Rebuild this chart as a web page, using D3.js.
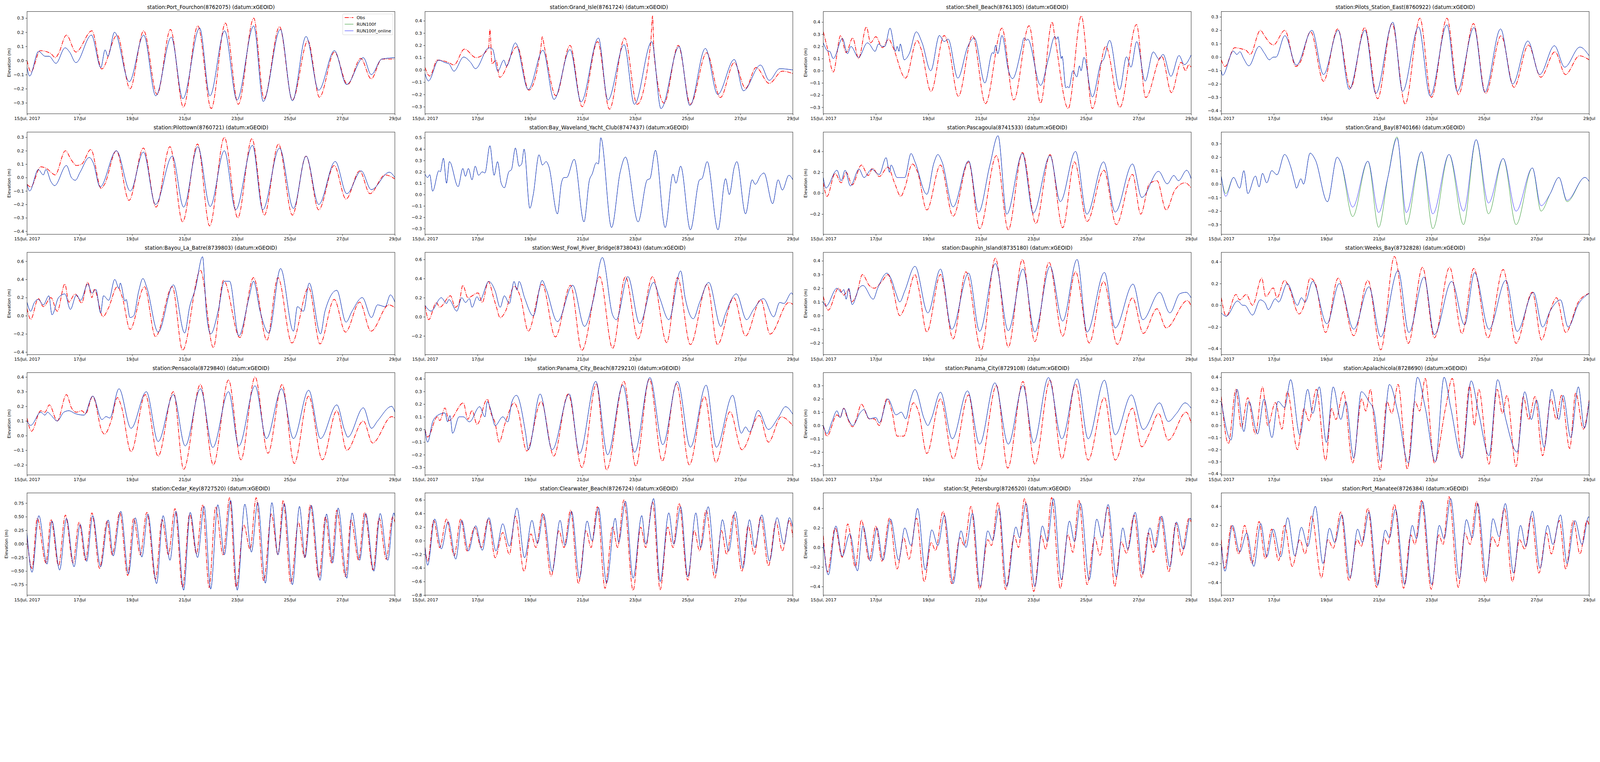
<!DOCTYPE html>
<html>
<head>
<meta charset="utf-8">
<script src="https://cdn.jsdelivr.net/npm/d3@7"></script>
<style>
  html, body { margin: 0; padding: 0; background: #fff; overflow: hidden; }
  svg { display: block; width: 100vw; height: auto; font-family: "DejaVu Sans", sans-serif; }
</style>
</head>
<body>
<div id="chart"></div>
<script>
const width = 5150, height = 1950;
const startDay = Date.UTC(2017, 6, 15);
const endDay = Date.UTC(2017, 6, 29);

// x ticks: day offsets from 15 Jul 2017 and their labels
const xTickDays = [0, 2, 4, 6, 8, 10, 12, 14];
const xTickLabels = ["15/Jul, 2017", "17/Jul", "19/Jul", "21/Jul", "23/Jul", "25/Jul", "27/Jul", "29/Jul"];

const seriesNames = ["Obs", "RUN100f", "RUN100f_online"];

const stationNames = [
  "station:Port_Fourchon(8762075) (datum:xGEOID)",
  "station:Grand_Isle(8761724) (datum:xGEOID)",
  "station:Shell_Beach(8761305) (datum:xGEOID)",
  "station:Pilots_Station_East(8760922) (datum:xGEOID)",
  "station:Pilottown(8760721) (datum:xGEOID)",
  "station:Bay_Waveland_Yacht_Club(8747437) (datum:xGEOID)",
  "station:Pascagoula(8741533) (datum:xGEOID)",
  "station:Grand_Bay(8740166) (datum:xGEOID)",
  "station:Bayou_La_Batre(8739803) (datum:xGEOID)",
  "station:West_Fowl_River_Bridge(8738043) (datum:xGEOID)",
  "station:Dauphin_Island(8735180) (datum:xGEOID)",
  "station:Weeks_Bay(8732828) (datum:xGEOID)",
  "station:Pensacola(8729840) (datum:xGEOID)",
  "station:Panama_City_Beach(8729210) (datum:xGEOID)",
  "station:Panama_City(8729108) (datum:xGEOID)",
  "station:Apalachicola(8728690) (datum:xGEOID)",
  "station:Cedar_Key(8727520) (datum:xGEOID)",
  "station:Clearwater_Beach(8726724) (datum:xGEOID)",
  "station:St_Petersburg(8726520) (datum:xGEOID)",
  "station:Port_Manatee(8726384) (datum:xGEOID)"
];

// y axis limits and tick values per station
const yLimits = [
  [-0.377, 0.347], [-0.357, 0.476], [-0.353, 0.487], [-0.422, 0.34],
  [-0.423, 0.339], [-0.35, 0.55], [-0.393, 0.585], [-0.372, 0.386],
  [-0.428, 0.698], [-0.395, 0.674], [-0.285, 0.462], [-0.454, 0.4875],
  [-0.268, 0.43], [-0.359, 0.449], [-0.371, 0.397], [-0.409, 0.438],
  [-0.942, 0.938], [-0.80, 0.703], [-0.488, 0.558], [-0.532, 0.54]
];
const yTicks = [
  [-0.3, -0.2, -0.1, 0, 0.1, 0.2, 0.3],
  [-0.3, -0.2, -0.1, 0, 0.1, 0.2, 0.3, 0.4],
  [-0.3, -0.2, -0.1, 0, 0.1, 0.2, 0.3, 0.4],
  [-0.4, -0.3, -0.2, -0.1, 0, 0.1, 0.2, 0.3],
  [-0.4, -0.3, -0.2, -0.1, 0, 0.1, 0.2, 0.3],
  [-0.3, -0.2, -0.1, 0, 0.1, 0.2, 0.3, 0.4, 0.5],
  [-0.2, 0, 0.2, 0.4],
  [-0.3, -0.2, -0.1, 0, 0.1, 0.2, 0.3],
  [-0.4, -0.2, 0, 0.2, 0.4, 0.6],
  [-0.2, 0, 0.2, 0.4, 0.6],
  [-0.2, -0.1, 0, 0.1, 0.2, 0.3, 0.4],
  [-0.4, -0.2, 0, 0.2, 0.4],
  [-0.2, -0.1, 0, 0.1, 0.2, 0.3, 0.4],
  [-0.3, -0.2, -0.1, 0, 0.1, 0.2, 0.3, 0.4],
  [-0.3, -0.2, -0.1, 0, 0.1, 0.2, 0.3],
  [-0.4, -0.3, -0.2, -0.1, 0, 0.1, 0.2, 0.3, 0.4],
  [-0.75, -0.5, -0.25, 0, 0.25, 0.5, 0.75],
  [-0.8, -0.6, -0.4, -0.2, 0, 0.2, 0.4, 0.6],
  [-0.4, -0.2, 0, 0.2, 0.4],
  [-0.4, -0.2, 0, 0.2, 0.4]
];
const yTickDecimals = [1,1,1,1, 1,1,1,1, 1,1,1,1, 1,1,1,1, 2,1,1,1];

// series: [day offset, elevation m], read at highs/lows
const portFourchonObs = [[0,0.0],[0.15,-0.08],[0.5,0.07],[0.9,0.05],[1.08,0.02],[1.2,0.05],[1.5,0.18],[1.86,0.06],[2.47,0.21],[2.84,-0.06],[3.43,0.18],[3.92,-0.2],[4.44,0.21],[4.95,-0.24],[5.46,0.22],[5.95,-0.33],[6.5,0.245],[7.01,-0.34],[7.55,0.265],[8.04,-0.31],[8.63,0.30],[9.02,-0.27],[9.61,0.24],[10.1,-0.28],[10.69,0.14],[11.13,-0.26],[11.7,0.06],[12.2,-0.17],[12.7,0.015],[13.1,-0.13],[13.5,0.01],[14,0.01]];
const portFourchonModel = [[0,-0.05],[0.1,-0.11],[0.44,0.065],[0.69,0.03],[0.84,0.03],[1.1,-0.02],[1.45,0.09],[1.62,0.06],[1.86,-0.015],[2.45,0.18],[2.81,-0.05],[2.97,0.075],[3.08,0.03],[3.33,0.2],[3.89,-0.15],[4.44,0.18],[4.9,-0.25],[5.49,0.165],[5.93,-0.27],[6.57,0.23],[6.96,-0.25],[7.52,0.21],[7.99,-0.28],[8.63,0.245],[8.99,-0.29],[9.64,0.22],[10.1,-0.285],[10.62,0.17],[11.1,-0.21],[11.7,0.07],[12.16,-0.17],[12.8,0.02],[13.1,-0.1],[13.5,0.01],[14,0.02]];

const grandIsleObs = [[0,0.02],[0.18,-0.05],[0.47,0.08],[0.9,0.06],[1.1,0.04],[1.5,0.17],[1.94,0.1],[2.42,0.18],[2.47,0.33],[2.55,0.05],[2.7,0.08],[2.84,-0.06],[3.51,0.19],[3.95,-0.165],[4.42,0.2],[4.46,0.27],[4.55,0.18],[4.98,-0.21],[5.52,0.2],[5.98,-0.3],[6.57,0.23],[7.02,-0.32],[7.6,0.26],[8.07,-0.28],[8.59,0.22],[8.66,0.44],[8.72,0.12],[9.1,-0.27],[9.64,0.2],[10.1,-0.28],[10.72,0.14],[11.24,-0.225],[11.77,0.06],[12.2,-0.15],[12.6,0.02],[13.1,-0.11],[13.6,-0.01],[14,-0.03]];
const grandIsleModel = [[0,-0.03],[0.13,-0.09],[0.52,0.08],[0.76,0.06],[0.91,0.05],[1.1,-0.01],[1.47,0.105],[1.74,0.06],[1.92,0.01],[2.43,0.18],[2.57,0.17],[2.77,-0.01],[3.0,0.08],[3.1,0.03],[3.44,0.22],[3.93,-0.16],[4.49,0.16],[4.91,-0.24],[5.52,0.165],[5.94,-0.26],[6.6,0.26],[6.96,-0.245],[7.58,0.205],[7.97,-0.28],[8.63,0.23],[8.98,-0.315],[9.67,0.19],[10.08,-0.29],[10.67,0.175],[11.14,-0.2],[11.77,0.085],[12.12,-0.17],[12.77,0.04],[13.1,-0.085],[13.5,0.01],[14,0.0]];

const shellBeachObs = [[0,0.32],[0.14,0.2],[0.38,-0.01],[0.66,0.29],[0.87,0.15],[1.12,0.27],[1.34,0.1],[1.64,0.36],[1.8,0.23],[2.0,0.28],[2.25,0.19],[2.49,0.26],[2.64,0.2],[3.13,-0.06],[3.57,0.25],[3.72,0.18],[4.1,-0.17],[4.6,0.29],[4.75,0.22],[5.14,-0.21],[5.68,0.29],[6.17,-0.27],[6.8,0.35],[7.25,-0.24],[7.83,0.37],[8.27,-0.265],[8.71,0.4],[8.81,0.28],[9.32,-0.31],[9.82,0.45],[10.24,-0.31],[10.75,0.2],[11.29,-0.3],[11.92,0.38],[12.27,-0.22],[12.88,0.12],[13.25,-0.18],[13.62,0.07],[13.79,0.0],[13.91,0.05],[14,0.03]];
const shellBeachModel = [[0,0.23],[0.19,0.16],[0.24,0.16],[0.38,0.1],[0.73,0.265],[0.92,0.14],[1.05,0.2],[1.34,0.11],[1.68,0.23],[1.75,0.22],[1.97,0.16],[2.1,0.22],[2.25,0.2],[2.34,0.2],[2.54,0.35],[2.75,0.16],[2.81,0.2],[2.88,0.16],[2.93,0.22],[3.08,0.09],[3.27,0.14],[3.54,0.32],[3.76,0.23],[4.09,0.0],[4.42,0.29],[4.6,0.24],[4.75,0.26],[5.12,-0.06],[5.5,0.2],[5.75,0.27],[6.15,-0.1],[6.44,0.15],[6.48,0.14],[6.56,0.21],[6.64,0.14],[6.8,0.29],[7.05,0.0],[7.2,-0.065],[7.54,0.18],[7.64,0.27],[7.74,0.25],[7.78,0.26],[8.27,-0.12],[8.57,0.1],[8.81,0.28],[8.89,0.26],[8.93,0.28],[9.06,0.1],[9.09,0.12],[9.23,-0.14],[9.3,-0.13],[9.35,-0.14],[9.5,0.0],[9.65,-0.05],[9.75,0.04],[9.81,0.0],[9.92,0.11],[10.24,-0.215],[10.58,0.07],[10.66,0.09],[10.9,0.25],[11.28,-0.155],[11.54,0.115],[11.71,0.03],[11.93,0.24],[12.25,-0.085],[12.56,0.155],[12.78,0.095],[12.93,0.135],[13.23,-0.045],[13.54,0.125],[13.74,0.05],[14,0.13]];

const pilotsObs = [[0,-0.02],[0.14,-0.07],[0.51,0.07],[0.8,0.06],[0.95,0.05],[1.1,0.02],[1.49,0.2],[1.64,0.16],[1.88,0.1],[1.98,0.09],[2.42,0.2],[2.84,-0.07],[3.0,-0.04],[3.4,0.19],[3.89,-0.18],[4.43,0.21],[4.92,-0.23],[5.46,0.22],[5.95,-0.31],[6.5,0.25],[7.0,-0.35],[7.56,0.29],[8.0,-0.3],[8.59,0.29],[9.03,-0.28],[9.6,0.25],[10.06,-0.27],[10.65,0.16],[11.14,-0.225],[11.69,0.09],[12.16,-0.15],[12.7,0.04],[13.1,-0.13],[13.63,0.01],[14,-0.02]];
const pilotsModel = [[0,-0.1],[0.05,-0.135],[0.46,0.045],[0.59,0.02],[0.71,0.04],[0.85,-0.01],[1.05,-0.065],[1.44,0.08],[1.64,0.03],[1.83,-0.02],[1.98,0.0],[2.08,0.0],[2.42,0.16],[2.86,-0.06],[3.45,0.2],[3.89,-0.13],[4.45,0.2],[4.87,-0.24],[5.47,0.2],[5.88,-0.27],[6.53,0.26],[6.9,-0.255],[7.51,0.225],[7.95,-0.29],[8.59,0.24],[8.98,-0.255],[9.62,0.22],[10.03,-0.26],[10.63,0.21],[11.09,-0.2],[11.67,0.12],[12.12,-0.13],[12.68,0.085],[13.07,-0.075],[13.65,0.075],[14,0.01]];

const pilottownObs = [[0,-0.05],[0.14,-0.07],[0.52,0.08],[0.8,0.06],[0.91,0.04],[1.07,0.02],[1.46,0.2],[1.69,0.13],[1.88,0.09],[2.08,0.1],[2.43,0.21],[2.82,-0.08],[2.95,-0.05],[3.4,0.2],[3.88,-0.17],[4.43,0.22],[4.91,-0.22],[5.44,0.23],[5.92,-0.33],[6.49,0.25],[6.95,-0.36],[7.51,0.3],[8.02,-0.3],[8.56,0.29],[9.03,-0.28],[9.57,0.25],[10.1,-0.28],[10.62,0.16],[11.1,-0.24],[11.69,0.09],[12.14,-0.16],[12.66,0.05],[13.05,-0.12],[13.63,0.02],[14,-0.01]];
const pilottownModel = [[0,-0.05],[0.1,-0.1],[0.43,0.06],[0.62,0.02],[0.72,0.06],[0.91,-0.03],[1.05,-0.06],[1.5,0.09],[1.69,0.0],[1.84,-0.02],[2.02,0.04],[2.37,0.15],[2.52,0.11],[2.78,-0.07],[3.4,0.2],[3.93,-0.1],[4.43,0.19],[4.89,-0.2],[5.53,0.16],[5.96,-0.22],[6.5,0.23],[6.97,-0.215],[7.51,0.2],[7.94,-0.24],[8.58,0.24],[8.97,-0.24],[9.61,0.22],[10.14,-0.23],[10.62,0.16],[11.1,-0.2],[11.73,0.12],[12.17,-0.12],[12.72,0.05],[13.1,-0.09],[13.79,0.04],[14,0.0]];

const bayWavelandModel = [[0,0.18],[0.1,0.15],[0.18,0.175],[0.29,0.03],[0.53,0.21],[0.58,0.2],[0.7,0.32],[0.82,0.1],[0.93,0.29],[1.26,0.07],[1.44,0.23],[1.54,0.16],[1.65,0.23],[1.79,0.13],[1.91,0.25],[2.04,0.17],[2.18,0.2],[2.28,0.19],[2.47,0.43],[2.63,0.17],[2.76,0.29],[2.9,0.1],[3.02,0.06],[3.19,0.2],[3.29,0.22],[3.44,0.41],[3.58,0.25],[3.68,0.27],[3.77,0.4],[3.99,-0.12],[4.12,0.0],[4.34,0.35],[4.47,0.26],[4.61,0.29],[4.71,0.25],[5.04,-0.17],[5.19,0.1],[5.29,0.15],[5.39,0.15],[5.68,0.31],[6.05,-0.24],[6.26,0.13],[6.36,0.18],[6.52,0.28],[6.6,0.27],[6.69,0.5],[7.1,-0.29],[7.43,0.2],[7.63,0.33],[8.11,-0.24],[8.46,0.13],[8.56,0.14],[8.77,0.39],[9.14,-0.29],[9.44,0.18],[9.55,0.1],[9.73,0.25],[10.1,-0.31],[10.45,0.13],[10.54,0.14],[10.74,0.29],[11.15,-0.31],[11.44,0.14],[11.58,0.0],[11.77,0.24],[11.87,0.29],[12.2,-0.17],[12.45,0.13],[12.57,0.09],[12.78,0.17],[12.9,0.19],[13.23,-0.08],[13.44,0.13],[13.6,0.04],[13.85,0.17],[14,0.13]];

const pascagoulaObs = [[0,0.1],[0.14,-0.03],[0.45,0.19],[0.68,0.1],[0.87,0.2],[1.1,0.08],[1.45,0.27],[1.71,0.17],[1.88,0.24],[2.13,0.16],[2.46,0.25],[2.71,0.1],[2.95,-0.03],[3.1,0.05],[3.39,0.28],[3.59,0.2],[3.94,-0.16],[4.46,0.27],[4.94,-0.22],[5.53,0.3],[5.95,-0.34],[6.59,0.36],[7.04,-0.35],[7.58,0.39],[8.09,-0.29],[8.63,0.37],[9.11,-0.33],[9.56,0.3],[10.04,-0.27],[10.68,0.22],[11.15,-0.3],[11.77,0.18],[12.08,-0.2],[12.41,0.09],[12.7,0.12],[13.05,-0.16],[13.38,0.03],[13.77,0.1],[14,0.05]];
const pascagoulaModel = [[0,0.15],[0.1,0.05],[0.52,0.22],[0.68,0.12],[0.83,0.22],[1.03,0.07],[1.36,0.23],[1.55,0.15],[1.84,0.23],[2.13,0.18],[2.39,0.34],[2.52,0.2],[2.58,0.27],[2.81,0.15],[3.1,0.15],[3.34,0.38],[3.49,0.3],[3.94,-0.01],[4.21,0.29],[4.36,0.37],[4.52,0.3],[4.94,-0.13],[5.53,0.31],[5.91,-0.18],[6.34,0.27],[6.65,0.55],[6.98,-0.2],[7.58,0.38],[7.99,-0.19],[8.63,0.36],[9.02,-0.08],[9.6,0.4],[10.03,-0.2],[10.67,0.3],[11.11,-0.18],[11.77,0.28],[12.12,-0.04],[12.76,0.21],[13.09,0.09],[13.34,0.17],[13.52,0.12],[13.83,0.22],[14,0.14]];

const grandBayRun = [[0,0.06],[0.17,-0.07],[0.47,0.05],[0.7,-0.03],[0.86,0.1],[1.01,-0.07],[1.3,0.06],[1.44,-0.02],[1.57,0.08],[1.73,0.01],[1.92,0.1],[2.12,0.07],[2.41,0.22],[2.64,0.13],[2.8,0.01],[2.86,-0.03],[3.03,0.04],[3.13,0.0],[3.38,0.23],[3.58,0.18],[4.04,-0.13],[4.41,0.2],[4.55,0.16],[5.0,-0.24],[5.58,0.17],[5.99,-0.32],[6.34,0.05],[6.69,0.35],[7.04,-0.3],[7.62,0.24],[8.05,-0.33],[8.67,0.22],[9.22,-0.3],[9.7,0.33],[10.17,-0.22],[10.73,0.19],[11.22,-0.3],[11.84,0.12],[12.17,-0.2],[12.52,-0.07],[12.85,0.05],[13.16,-0.13],[13.84,0.05],[14,0.02]];
const grandBayModel = [[0,0.06],[0.17,-0.09],[0.47,0.05],[0.7,-0.03],[0.86,0.1],[1.01,-0.07],[1.3,0.06],[1.44,-0.02],[1.57,0.08],[1.73,0.01],[1.92,0.1],[2.12,0.07],[2.41,0.22],[2.64,0.13],[2.8,0.01],[2.86,-0.03],[3.03,0.04],[3.13,0.0],[3.38,0.23],[3.58,0.18],[4.04,-0.13],[4.41,0.2],[4.55,0.16],[5.0,-0.17],[5.58,0.17],[5.99,-0.21],[6.34,0.05],[6.69,0.34],[7.04,-0.21],[7.62,0.24],[8.05,-0.22],[8.67,0.22],[9.22,-0.2],[9.7,0.33],[10.17,-0.14],[10.73,0.19],[11.22,-0.2],[11.84,0.12],[12.17,-0.16],[12.52,-0.07],[12.85,0.05],[13.16,-0.12],[13.84,0.05],[14,0.02]];

const bayouObs = [[0,0.08],[0.14,-0.04],[0.43,0.19],[0.62,0.1],[0.91,0.2],[1.15,0.05],[1.44,0.35],[1.59,0.15],[1.83,0.24],[2.08,0.14],[2.31,0.37],[2.47,0.2],[2.56,0.29],[2.89,-0.01],[3.09,0.08],[3.44,0.32],[3.63,0.2],[3.92,-0.15],[4.47,0.32],[4.89,-0.23],[5.53,0.32],[5.92,-0.38],[6.6,0.5],[7.09,-0.35],[7.48,0.39],[8.1,-0.24],[8.62,0.42],[9.13,-0.27],[9.55,0.42],[10.08,-0.3],[10.72,0.31],[11.15,-0.31],[11.69,0.18],[12.12,-0.18],[12.66,0.15],[13.09,-0.17],[13.77,0.12],[14,0.09]];
const bayouModel = [[0,0.15],[0.14,0.05],[0.27,0.14],[0.43,0.18],[0.62,0.12],[0.83,0.22],[0.95,0.01],[1.2,0.2],[1.44,0.24],[1.65,0.07],[1.88,0.23],[2.04,0.17],[2.31,0.35],[2.47,0.25],[2.62,0.29],[2.8,0.03],[2.91,0.22],[3.11,0.17],[3.34,0.4],[3.5,0.3],[3.55,0.36],[3.73,0.16],[3.77,0.18],[3.92,-0.02],[4.06,0.0],[4.25,0.27],[4.41,0.41],[4.56,0.31],[4.99,-0.18],[5.57,0.34],[6.0,-0.19],[6.19,0.1],[6.41,0.3],[6.68,0.65],[6.83,0.02],[6.99,-0.2],[7.28,0.06],[7.51,0.38],[7.71,0.38],[8.06,-0.22],[8.45,0.2],[8.62,0.38],[8.87,0.05],[9.2,-0.19],[9.65,0.52],[10.14,-0.17],[10.29,0.1],[10.52,0.05],[10.74,0.36],[11.17,-0.2],[11.34,0.05],[11.79,0.28],[12.14,-0.07],[12.37,0.05],[12.76,0.2],[13.11,-0.02],[13.34,0.12],[13.63,0.1],[13.83,0.23],[14,0.15]];

const westFowlObs = [[0,0.12],[0.14,-0.03],[0.43,0.15],[0.56,0.1],[0.97,0.22],[1.15,0.1],[1.3,0.15],[1.44,0.33],[1.63,0.2],[2.02,0.25],[2.18,0.15],[2.41,0.37],[2.61,0.2],[2.72,0.1],[2.86,-0.01],[3.05,0.05],[3.4,0.32],[3.64,0.2],[3.93,-0.15],[4.46,0.34],[4.96,-0.21],[5.54,0.33],[5.97,-0.35],[6.65,0.42],[7.14,-0.33],[7.63,0.42],[8.11,-0.23],[8.66,0.42],[9.2,-0.27],[9.61,0.41],[10.1,-0.29],[10.74,0.34],[11.13,-0.29],[11.75,0.2],[12.2,-0.2],[12.78,0.18],[13.13,-0.18],[13.85,0.15],[14,0.13]];
const westFowlModel = [[0,0.12],[0.23,0.06],[0.62,0.2],[0.82,0.14],[0.91,0.18],[1.21,0.06],[1.4,0.2],[1.54,0.15],[1.69,0.19],[1.79,0.1],[1.98,0.21],[2.08,0.17],[2.43,0.37],[2.67,0.27],[2.86,0.1],[3.02,0.22],[3.21,0.14],[3.39,0.37],[3.5,0.28],[3.58,0.37],[3.79,0.2],[4.12,0.01],[4.46,0.38],[4.61,0.29],[5.04,-0.05],[5.62,0.33],[6.07,-0.1],[6.4,0.17],[6.75,0.62],[7.14,0.02],[7.28,-0.03],[7.72,0.42],[8.17,-0.07],[8.7,0.36],[8.93,0.2],[9.28,-0.03],[9.73,0.48],[9.9,0.2],[10.21,-0.02],[10.45,0.15],[10.8,0.36],[11.26,-0.1],[11.42,0.02],[11.85,0.24],[12.24,-0.03],[12.51,0.08],[12.88,0.19],[13.27,0.0],[13.5,0.15],[13.66,0.14],[13.95,0.25],[14,0.23]];

const dauphinObs = [[0,0.14],[0.19,0.04],[0.58,0.2],[0.78,0.15],[0.97,0.19],[1.07,0.1],[1.26,0.15],[1.49,0.3],[1.75,0.22],[1.94,0.2],[2.23,0.25],[2.46,0.3],[2.62,0.22],[2.91,0.0],[3.14,0.08],[3.49,0.3],[3.63,0.2],[3.94,-0.12],[4.46,0.3],[4.94,-0.17],[5.43,0.32],[6.01,-0.25],[6.55,0.42],[7.04,-0.23],[7.58,0.41],[8.05,-0.19],[8.59,0.39],[9.11,-0.15],[9.6,0.32],[10.12,-0.2],[10.67,0.25],[11.19,-0.21],[11.77,0.13],[12.18,-0.13],[12.7,0.05],[13.05,-0.09],[13.86,0.11],[14,0.07]];
const dauphinModel = [[0,0.1],[0.1,0.07],[0.52,0.2],[0.68,0.17],[0.78,0.19],[0.87,0.12],[0.97,0.2],[1.1,0.08],[1.36,0.2],[1.51,0.22],[1.9,0.12],[2.07,0.2],[2.42,0.31],[2.58,0.27],[2.77,0.16],[2.91,0.1],[3.1,0.18],[3.49,0.36],[3.98,0.02],[4.46,0.34],[4.89,-0.1],[5.53,0.31],[5.95,-0.115],[6.55,0.38],[7.04,-0.11],[7.6,0.34],[8.05,-0.12],[8.63,0.36],[9.11,-0.04],[9.66,0.41],[10.04,-0.12],[10.7,0.315],[11.11,-0.09],[11.79,0.23],[12.16,-0.03],[12.8,0.17],[13.19,0.02],[13.57,0.16],[13.81,0.17],[14,0.13]];

const weeksBayObs = [[0,0.07],[0.19,-0.1],[0.56,0.1],[0.7,0.05],[0.95,0.1],[1.19,0.0],[1.54,0.25],[1.69,0.08],[1.98,0.16],[2.12,0.07],[2.41,0.23],[2.57,0.17],[2.96,-0.08],[3.15,0.0],[3.38,0.25],[3.58,0.2],[3.97,-0.25],[4.45,0.25],[5.04,-0.28],[5.58,0.23],[6.07,-0.41],[6.59,0.45],[7.12,-0.35],[7.66,0.35],[8.11,-0.3],[8.69,0.35],[9.16,-0.26],[9.61,0.34],[10.15,-0.3],[10.73,0.33],[11.22,-0.35],[11.84,0.12],[12.19,-0.32],[12.52,-0.05],[12.76,0.07],[13.11,-0.25],[13.59,0.03],[14,0.11]];
const weeksBayModel = [[0,-0.07],[0.19,-0.1],[0.62,0.04],[0.82,0.0],[0.89,0.0],[1.19,-0.09],[1.48,0.05],[1.67,0.02],[1.79,-0.04],[2.06,0.06],[2.18,0.03],[2.51,0.2],[2.9,0.0],[3.05,0.07],[3.19,0.03],[3.48,0.22],[4.02,-0.17],[4.49,0.2],[5.04,-0.22],[5.62,0.17],[6.07,-0.29],[6.73,0.32],[7.14,-0.25],[7.72,0.26],[8.11,-0.27],[8.77,0.22],[9.26,-0.18],[9.64,0.3],[10.19,-0.22],[10.83,0.23],[11.26,-0.24],[11.88,0.12],[12.23,-0.2],[12.52,-0.05],[12.91,0.05],[13.2,-0.2],[13.59,0.01],[14,0.11]];

const pensacolaObs = [[0,0.12],[0.17,0.03],[0.52,0.17],[0.68,0.16],[0.85,0.21],[1.15,0.1],[1.5,0.28],[1.69,0.19],[1.88,0.16],[2.08,0.17],[2.23,0.15],[2.5,0.27],[2.85,0.03],[2.95,0.01],[3.2,0.1],[3.44,0.26],[3.59,0.2],[3.96,-0.11],[4.5,0.28],[4.99,-0.14],[5.57,0.3],[5.96,-0.23],[6.6,0.35],[7.09,-0.2],[7.67,0.38],[8.14,-0.165],[8.68,0.4],[9.17,-0.12],[9.71,0.35],[10.17,-0.19],[10.72,0.27],[11.24,-0.165],[11.79,0.17],[12.17,-0.1],[12.8,0.1],[13.15,-0.05],[13.88,0.13],[14,0.12]];
const pensacolaModel = [[0,0.1],[0.14,0.07],[0.52,0.16],[0.68,0.14],[0.78,0.16],[0.91,0.14],[1.15,0.1],[1.4,0.16],[1.59,0.17],[1.84,0.15],[2.17,0.14],[2.5,0.27],[2.85,0.11],[3.01,0.13],[3.15,0.12],[3.5,0.32],[3.96,0.05],[4.54,0.3],[4.99,-0.04],[5.57,0.28],[6.02,-0.07],[6.6,0.32],[7.07,-0.08],[7.67,0.3],[8.06,-0.07],[8.68,0.34],[9.11,-0.02],[9.69,0.32],[10.14,-0.02],[10.72,0.31],[11.17,-0.02],[11.79,0.21],[12.08,0.04],[12.21,-0.01],[12.8,0.19],[13.11,0.05],[13.34,0.1],[13.88,0.2],[14,0.16]];

const pcBeachObs = [[0,0.0],[0.1,-0.06],[0.47,0.1],[0.56,0.07],[0.76,0.17],[0.91,0.07],[1.46,0.21],[1.63,0.08],[1.79,0.15],[1.98,0.04],[2.37,0.24],[2.51,0.13],[2.67,0.05],[2.82,-0.1],[3.05,0.05],[3.4,0.21],[3.54,0.15],[3.87,-0.17],[4.42,0.22],[4.9,-0.21],[5.45,0.28],[5.97,-0.3],[6.52,0.36],[6.91,-0.32],[7.57,0.38],[8.02,-0.29],[8.54,0.4],[9.03,-0.25],[9.57,0.36],[10.06,-0.28],[10.64,0.26],[11.07,-0.26],[11.61,0.14],[12.06,-0.16],[12.72,0.11],[13.07,-0.1],[13.56,0.1],[14,0.03]];
const pcBeachModel = [[0,0.0],[0.1,-0.1],[0.29,0.06],[0.47,0.11],[0.76,0.13],[0.86,0.06],[0.95,0.11],[1.05,-0.03],[1.3,0.1],[1.46,0.1],[1.69,0.06],[2.08,0.18],[2.28,0.1],[2.37,0.22],[2.51,0.15],[2.67,0.03],[2.96,0.1],[3.15,0.06],[3.31,0.22],[3.48,0.27],[3.83,-0.03],[3.93,-0.16],[4.38,0.28],[4.84,-0.16],[5.49,0.28],[5.88,-0.19],[6.5,0.38],[6.95,-0.2],[7.53,0.35],[7.98,-0.18],[8.56,0.41],[9.05,-0.12],[9.61,0.38],[10.1,-0.14],[10.7,0.35],[11.09,-0.14],[11.71,0.27],[12.04,-0.03],[12.2,0.02],[12.35,-0.02],[12.68,0.15],[13.07,0.0],[13.46,0.1],[13.72,0.18],[14,0.12]];

const panamaCityObs = [[0,0.0],[0.14,-0.08],[0.52,0.08],[0.64,0.06],[0.78,0.13],[0.91,0.06],[1.12,-0.01],[1.26,0.05],[1.45,0.16],[1.75,0.05],[1.94,0.05],[2.13,0.0],[2.42,0.2],[2.62,0.1],[2.81,-0.08],[3.06,-0.08],[3.43,0.17],[3.63,0.1],[3.94,-0.21],[4.46,0.2],[4.94,-0.25],[5.53,0.23],[5.95,-0.33],[6.59,0.3],[7.02,-0.32],[7.6,0.33],[8.05,-0.29],[8.63,0.34],[9.08,-0.25],[9.6,0.31],[10.08,-0.26],[10.7,0.21],[11.11,-0.26],[11.77,0.13],[12.12,-0.16],[12.41,-0.06],[12.76,0.09],[13.13,-0.11],[13.81,0.1],[14,0.02]];
const panamaCityModel = [[0,0.0],[0.14,-0.06],[0.33,0.03],[0.52,0.11],[0.64,0.06],[0.78,0.13],[0.97,0.04],[1.12,0.0],[1.42,0.1],[1.55,0.12],[1.75,0.05],[2.0,0.06],[2.13,0.02],[2.46,0.2],[2.77,0.08],[2.97,0.1],[3.14,0.05],[3.3,0.18],[3.49,0.27],[3.84,0.05],[3.98,0.0],[4.11,0.05],[4.46,0.25],[4.91,-0.1],[5.49,0.26],[5.95,-0.14],[6.53,0.32],[7.04,-0.14],[7.6,0.3],[8.01,-0.13],[8.57,0.36],[9.08,-0.1],[9.66,0.35],[10.08,-0.1],[10.7,0.34],[11.11,-0.07],[11.73,0.23],[12.18,-0.03],[12.8,0.17],[13.13,0.03],[13.44,0.09],[13.77,0.17],[14,0.13]];

const apalachicolaObs = [[0,0.24],[0.27,-0.15],[0.56,0.3],[0.76,-0.02],[1.01,0.23],[1.3,-0.07],[1.57,0.32],[1.77,0.0],[2.06,0.19],[2.31,-0.03],[2.51,0.28],[2.9,-0.2],[3.15,0.14],[3.34,0.04],[3.62,0.3],[3.97,-0.29],[4.2,0.14],[4.36,0.05],[4.65,0.28],[5.0,-0.31],[5.35,0.22],[5.5,0.12],[5.68,0.3],[5.81,0.05],[6.05,-0.37],[6.3,0.2],[6.49,0.1],[6.73,0.34],[7.08,-0.36],[7.37,0.2],[7.55,0.12],[7.76,0.39],[8.11,-0.31],[8.54,0.15],[8.79,0.39],[9.16,-0.27],[9.45,0.33],[9.64,0.0],[9.8,0.3],[10.19,-0.32],[10.5,0.3],[10.7,0.1],[10.87,0.25],[11.22,-0.34],[11.5,0.24],[11.7,0.05],[11.94,0.24],[12.23,-0.25],[12.55,0.22],[12.75,0.05],[12.95,0.25],[13.26,-0.19],[13.49,0.27],[13.78,-0.03],[14,0.21]];
const apalachicolaModel = [[0,0.2],[0.37,-0.12],[0.6,0.3],[0.86,-0.05],[1.05,0.2],[1.38,-0.07],[1.63,0.22],[1.93,-0.1],[2.16,0.2],[2.41,0.15],[2.64,0.38],[2.99,-0.08],[3.29,0.3],[3.48,0.1],[3.73,0.32],[4.0,-0.14],[4.26,0.32],[4.55,0.05],[4.74,0.2],[5.04,-0.27],[5.33,0.28],[5.62,0.2],[5.81,0.12],[6.07,-0.3],[6.4,0.34],[6.73,0.1],[7.12,-0.31],[7.47,0.4],[7.76,0.15],[8.15,-0.3],[8.48,0.4],[8.73,0.15],[9.16,-0.27],[9.51,0.37],[9.8,0.1],[10.19,-0.25],[10.52,0.38],[10.83,0.05],[11.26,-0.22],[11.55,0.28],[11.8,0.05],[12.0,0.21],[12.29,-0.18],[12.58,0.3],[12.85,0.05],[13.01,0.25],[13.3,-0.1],[13.59,0.32],[13.82,-0.02],[14,0.2]];

const cedarKeyObs = [[0,0.1],[0.19,-0.45],[0.39,0.47],[0.72,-0.35],[0.91,0.45],[1.2,-0.4],[1.46,0.53],[1.75,-0.35],[1.98,0.4],[2.23,-0.3],[2.47,0.57],[2.76,-0.45],[3.05,0.42],[3.24,-0.2],[3.53,0.58],[3.83,-0.58],[4.06,0.47],[4.31,-0.2],[4.56,0.58],[4.89,-0.65],[5.14,0.45],[5.38,-0.2],[5.63,0.65],[5.92,-0.8],[6.19,0.55],[6.45,-0.18],[6.68,0.72],[6.93,-0.8],[7.18,0.68],[7.46,-0.2],[7.71,0.85],[7.96,-0.8],[8.25,0.35],[8.49,-0.1],[8.72,0.85],[9.01,-0.68],[9.3,0.55],[9.55,-0.2],[9.75,0.8],[10.04,-0.72],[10.33,0.4],[10.56,-0.25],[10.78,0.72],[11.11,-0.62],[11.36,0.5],[11.59,-0.35],[11.79,0.62],[12.12,-0.6],[12.33,0.45],[12.62,-0.3],[12.85,0.58],[13.17,-0.48],[13.4,0.48],[13.67,-0.28],[13.92,0.5],[14,0.4]];
const cedarKeyModel = [[0,0.2],[0.19,-0.52],[0.45,0.52],[0.76,-0.37],[0.95,0.42],[1.24,-0.48],[1.5,0.47],[1.79,-0.42],[2.02,0.36],[2.27,-0.32],[2.5,0.52],[2.8,-0.42],[3.09,0.44],[3.28,-0.22],[3.57,0.6],[3.86,-0.55],[4.12,0.48],[4.37,-0.24],[4.6,0.55],[4.93,-0.73],[5.18,0.52],[5.44,-0.3],[5.67,0.6],[5.96,-0.85],[6.21,0.58],[6.49,-0.25],[6.74,0.69],[6.99,-0.83],[7.26,0.72],[7.51,-0.2],[7.75,0.8],[8.0,-0.85],[8.29,0.73],[8.54,-0.15],[8.78,0.76],[9.07,-0.72],[9.32,0.76],[9.55,-0.2],[9.79,0.74],[10.1,-0.75],[10.37,0.69],[10.58,-0.25],[10.82,0.71],[11.15,-0.67],[11.4,0.55],[11.63,-0.35],[11.84,0.66],[12.17,-0.63],[12.37,0.57],[12.66,-0.3],[12.89,0.56],[13.2,-0.5],[13.44,0.56],[13.73,-0.3],[13.96,0.57],[14,0.5]];

const clearwaterObs = [[0,-0.1],[0.1,-0.3],[0.33,0.3],[0.56,-0.1],[0.82,0.32],[1.11,-0.22],[1.36,0.32],[1.6,-0.15],[1.89,0.2],[2.14,-0.1],[2.41,0.32],[2.67,-0.25],[2.96,0.12],[3.21,-0.2],[3.44,0.36],[3.77,-0.45],[4.03,0.1],[4.22,-0.1],[4.47,0.4],[4.8,-0.52],[5.1,0.15],[5.29,-0.1],[5.54,0.45],[5.84,-0.63],[6.13,0.15],[6.32,-0.1],[6.56,0.5],[6.85,-0.7],[7.14,0.2],[7.33,-0.1],[7.57,0.6],[7.92,-0.73],[8.21,0.2],[8.4,-0.1],[8.66,0.57],[8.95,-0.72],[9.24,0.2],[9.44,-0.1],[9.67,0.55],[10.0,-0.58],[10.25,0.15],[10.45,-0.15],[10.7,0.45],[11.03,-0.55],[11.28,0.15],[11.48,-0.2],[11.75,0.38],[12.06,-0.45],[12.3,0.22],[12.53,-0.2],[12.78,0.35],[13.07,-0.37],[13.36,0.28],[13.6,-0.15],[13.87,0.3],[14,0.05]];
const clearwaterModel = [[0,-0.1],[0.1,-0.36],[0.37,0.32],[0.62,-0.12],[0.88,0.28],[1.17,-0.27],[1.4,0.3],[1.65,-0.15],[1.93,0.22],[2.18,-0.14],[2.43,0.34],[2.7,-0.15],[2.96,0.25],[3.21,-0.08],[3.5,0.48],[3.79,-0.25],[4.07,0.3],[4.28,-0.04],[4.51,0.39],[4.84,-0.45],[5.14,0.3],[5.33,-0.07],[5.58,0.43],[5.88,-0.55],[6.17,0.29],[6.36,0.0],[6.6,0.49],[6.91,-0.62],[7.24,0.33],[7.37,-0.02],[7.63,0.58],[7.92,-0.55],[8.25,0.37],[8.4,-0.05],[8.7,0.62],[8.95,-0.6],[9.28,0.41],[9.47,-0.05],[9.73,0.5],[10.0,-0.53],[10.31,0.41],[10.49,-0.1],[10.78,0.5],[11.07,-0.48],[11.32,0.31],[11.56,-0.15],[11.81,0.43],[12.1,-0.4],[12.35,0.31],[12.55,-0.1],[12.82,0.38],[13.11,-0.3],[13.4,0.34],[13.66,-0.05],[13.87,0.34],[14,0.2]];

const stPeteObs = [[0,0.12],[0.16,-0.25],[0.45,0.2],[0.72,-0.1],[0.93,0.24],[1.22,-0.2],[1.45,0.28],[1.75,-0.13],[2.0,0.22],[2.23,-0.14],[2.52,0.3],[2.81,-0.22],[3.06,0.1],[3.26,-0.12],[3.55,0.3],[3.84,-0.35],[4.11,0.05],[4.27,-0.03],[4.56,0.37],[4.89,-0.37],[5.2,0.1],[5.37,0.02],[5.62,0.42],[5.95,-0.43],[6.26,0.08],[6.4,0.02],[6.65,0.46],[6.94,-0.43],[7.27,0.12],[7.43,0.0],[7.66,0.5],[8.01,-0.45],[8.3,0.12],[8.47,-0.02],[8.69,0.51],[9.02,-0.42],[9.31,0.13],[9.5,-0.05],[9.73,0.48],[10.04,-0.38],[10.33,0.1],[10.53,-0.08],[10.82,0.41],[11.09,-0.4],[11.34,0.06],[11.54,-0.06],[11.83,0.33],[12.12,-0.31],[12.37,0.15],[12.56,-0.05],[12.84,0.32],[13.15,-0.25],[13.42,0.25],[13.63,-0.08],[13.92,0.3],[14,0.26]];
const stPeteModel = [[0,0.05],[0.19,-0.28],[0.48,0.22],[0.72,-0.09],[1.01,0.14],[1.3,-0.24],[1.51,0.22],[1.8,-0.14],[2.04,0.2],[2.27,-0.13],[2.56,0.29],[2.87,-0.13],[3.1,0.2],[3.34,0.02],[3.59,0.4],[3.88,-0.23],[4.13,0.18],[4.36,0.02],[4.61,0.33],[4.94,-0.37],[5.24,0.17],[5.43,0.0],[5.68,0.35],[5.97,-0.4],[6.26,0.17],[6.44,0.07],[6.69,0.4],[6.98,-0.4],[7.33,0.21],[7.47,0.1],[7.72,0.45],[8.05,-0.4],[8.34,0.22],[8.53,0.06],[8.76,0.5],[9.06,-0.33],[9.37,0.27],[9.56,0.06],[9.79,0.45],[10.12,-0.33],[10.41,0.29],[10.61,0.1],[10.84,0.44],[11.15,-0.3],[11.4,0.2],[11.59,-0.02],[11.87,0.36],[12.16,-0.27],[12.43,0.2],[12.64,0.0],[12.88,0.32],[13.19,-0.2],[13.44,0.26],[13.71,-0.02],[13.96,0.3],[14,0.28]];

const portManateeObs = [[0,0.05],[0.12,-0.25],[0.39,0.2],[0.66,-0.1],[0.89,0.2],[1.17,-0.2],[1.44,0.24],[1.67,-0.15],[1.92,0.16],[2.18,-0.17],[2.41,0.2],[2.7,-0.23],[2.99,0.05],[3.19,-0.1],[3.44,0.3],[3.81,-0.35],[4.06,0.05],[4.26,-0.04],[4.55,0.34],[4.86,-0.38],[5.17,0.05],[5.33,-0.02],[5.58,0.38],[5.91,-0.45],[6.2,0.07],[6.34,0.0],[6.59,0.42],[6.94,-0.46],[7.21,0.1],[7.37,0.0],[7.62,0.46],[7.99,-0.47],[8.28,0.1],[8.44,0.0],[8.67,0.5],[9.02,-0.45],[9.27,0.12],[9.47,0.0],[9.72,0.45],[10.05,-0.4],[10.32,0.08],[10.52,-0.02],[10.77,0.38],[11.08,-0.39],[11.35,0.05],[11.55,-0.05],[11.8,0.3],[12.09,-0.3],[12.38,0.12],[12.56,-0.1],[12.87,0.25],[13.11,-0.26],[13.4,0.25],[13.65,-0.1],[13.92,0.25],[14,0.2]];
const portManateeModel = [[0,0.0],[0.14,-0.28],[0.43,0.2],[0.7,-0.08],[0.97,0.12],[1.24,-0.23],[1.5,0.22],[1.73,-0.13],[1.98,0.16],[2.26,-0.13],[2.53,0.28],[2.8,-0.12],[3.05,0.18],[3.29,-0.02],[3.58,0.4],[3.87,-0.2],[4.12,0.17],[4.32,0.02],[4.59,0.31],[4.9,-0.35],[5.19,0.16],[5.37,0.02],[5.62,0.34],[5.95,-0.43],[6.24,0.15],[6.4,0.07],[6.63,0.37],[6.98,-0.42],[7.27,0.2],[7.43,0.06],[7.66,0.45],[8.01,-0.42],[8.3,0.2],[8.48,0.06],[8.73,0.48],[9.06,-0.36],[9.33,0.26],[9.55,0.07],[9.76,0.43],[10.09,-0.34],[10.34,0.27],[10.58,0.08],[10.81,0.43],[11.12,-0.3],[11.39,0.2],[11.59,-0.02],[11.84,0.35],[12.13,-0.25],[12.42,0.2],[12.62,0.0],[12.91,0.31],[13.16,-0.2],[13.46,0.25],[13.73,0.0],[13.98,0.29],[14,0.28]];

// per panel: observed series, RUN100f and RUN100f_online (RUN100f follows online where they overlap)
const obsByPanel = [portFourchonObs, grandIsleObs, shellBeachObs, pilotsObs, pilottownObs, null, pascagoulaObs, null,
  bayouObs, westFowlObs, dauphinObs, weeksBayObs, pensacolaObs, pcBeachObs, panamaCityObs, apalachicolaObs,
  cedarKeyObs, clearwaterObs, stPeteObs, portManateeObs];
const onlineByPanel = [portFourchonModel, grandIsleModel, shellBeachModel, pilotsModel, pilottownModel, bayWavelandModel, pascagoulaModel, grandBayModel,
  bayouModel, westFowlModel, dauphinModel, weeksBayModel, pensacolaModel, pcBeachModel, panamaCityModel, apalachicolaModel,
  cedarKeyModel, clearwaterModel, stPeteModel, portManateeModel];
const runByPanel = onlineByPanel.map((s, i) => i === 7 ? grandBayRun : s);

// layout (in the 5150 x 1950 frame)
const colX = [87, 1368, 2650, 3931];
const rowY = [37, 425, 812, 1199, 1586];
const pw = 1184, ph = 329;
const tickLen = 4.9, tickPad = 4.9;
const colors = { obs: "#ff0000", run: "#008000", online: "#0000ff" };

const toDate = d => new Date(startDay + d * 864e5);

// scale the whole figure to the window width
const svg = d3.select("#chart").append("svg")
  .attr("viewBox", `0 0 ${width} ${height}`)
  .attr("preserveAspectRatio", "xMinYMin meet");
svg.append("rect").attr("width", width).attr("height", height).attr("fill", "#fff");

stationNames.forEach(function (name, i) {
  const col = i % 4, row = Math.floor(i / 4);
  const left = colX[col], top = rowY[row];

  const x = d3.scaleUtc().domain([startDay, endDay]).range([0, pw]);
  const y = d3.scaleLinear().domain(yLimits[i]).range([ph, 0]);

  const g = svg.append("g").attr("transform", `translate(${left},${top})`);

  g.append("clipPath").attr("id", "clip" + i)
    .append("rect").attr("width", pw).attr("height", ph);

  const line = d3.line()
    .x(d => x(toDate(d[0])))
    .y(d => y(d[1]))
    .curve(d3.curveMonotoneX);

  const plot = g.append("g").attr("clip-path", `url(#clip${i})`);
  if (obsByPanel[i]) {
    plot.append("path").datum(obsByPanel[i])
      .attr("d", line).attr("fill", "none")
      .attr("stroke", colors.obs).attr("stroke-width", 2.1)
      .attr("stroke-dasharray", "13.3,3.3,2.1,3.3");
  }
  plot.append("path").datum(runByPanel[i])
    .attr("d", line).attr("fill", "none")
    .attr("stroke", colors.run).attr("stroke-width", 1.1);
  plot.append("path").datum(onlineByPanel[i])
    .attr("d", line).attr("fill", "none")
    .attr("stroke", colors.online).attr("stroke-width", 1.1);

  // y axis
  const fmt = d3.format("." + yTickDecimals[i] + "f");
  const yAxis = g.append("g")
    .call(d3.axisLeft(y).tickValues(yTicks[i]).tickFormat(fmt)
      .tickSize(tickLen).tickPadding(tickPad));
  yAxis.select(".domain").remove();
  yAxis.selectAll("line").attr("stroke", "#000").attr("stroke-width", 1.1);
  yAxis.selectAll("text").attr("font-family", "DejaVu Sans").attr("font-size", 13.9).attr("fill", "#000");

  // x axis
  const xAxis = g.append("g").attr("transform", `translate(0,${ph})`)
    .call(d3.axisBottom(x).tickValues(xTickDays.map(toDate))
      .tickFormat((d, k) => xTickLabels[k])
      .tickSize(tickLen).tickPadding(tickPad));
  xAxis.select(".domain").remove();
  xAxis.selectAll("line").attr("stroke", "#000").attr("stroke-width", 1.1);
  xAxis.selectAll("text").attr("font-family", "DejaVu Sans").attr("font-size", 13.9).attr("fill", "#000");

  // frame
  g.append("rect").attr("width", pw).attr("height", ph)
    .attr("fill", "none").attr("stroke", "#000").attr("stroke-width", 1.1);

  // title
  g.append("text")
    .attr("x", pw / 2).attr("y", -8.3)
    .attr("text-anchor", "middle")
    .attr("font-size", 16.7)
    .attr("fill", "#000")
    .text(name);

  // y label on first and third columns
  if (col === 0 || col === 2) {
    let maxW = 0;
    yAxis.selectAll("text").each(function () {
      maxW = Math.max(maxW, this.getComputedTextLength());
    });
    const lx = -(tickLen + tickPad + maxW + 5.6 + 3.3);
    g.append("text")
      .attr("transform", `translate(${lx},${ph / 2}) rotate(-90)`)
      .attr("text-anchor", "middle")
      .attr("font-size", 13.9)
      .attr("fill", "#000")
      .text("Elevation (m)");
  }

  // legend in first panel
  if (i === 0) {
    const lg = g.append("g").attr("transform", `translate(${1016},${8})`);
    lg.append("rect").attr("width", 162).attr("height", 67)
      .attr("rx", 3).attr("fill", "#fff").attr("fill-opacity", 0.8)
      .attr("stroke", "#ccc").attr("stroke-width", 1.1);
    const styles = [
      { c: colors.obs, w: 2.1, dash: "13.3,3.3,2.1,3.3" },
      { c: colors.run, w: 1.1, dash: null },
      { c: colors.online, w: 1.1, dash: null }
    ];
    seriesNames.forEach(function (s, k) {
      const cy = 11.5 + k * 21.3;
      lg.append("line").attr("x1", 6.5).attr("x2", 34.5).attr("y1", cy).attr("y2", cy)
        .attr("stroke", styles[k].c).attr("stroke-width", styles[k].w)
        .attr("stroke-dasharray", styles[k].dash);
      lg.append("text").attr("x", 45).attr("y", cy).attr("dy", "0.35em")
        .attr("font-size", 13.9).attr("fill", "#000").text(s);
    });
  }
});
</script>
</body>
</html>
